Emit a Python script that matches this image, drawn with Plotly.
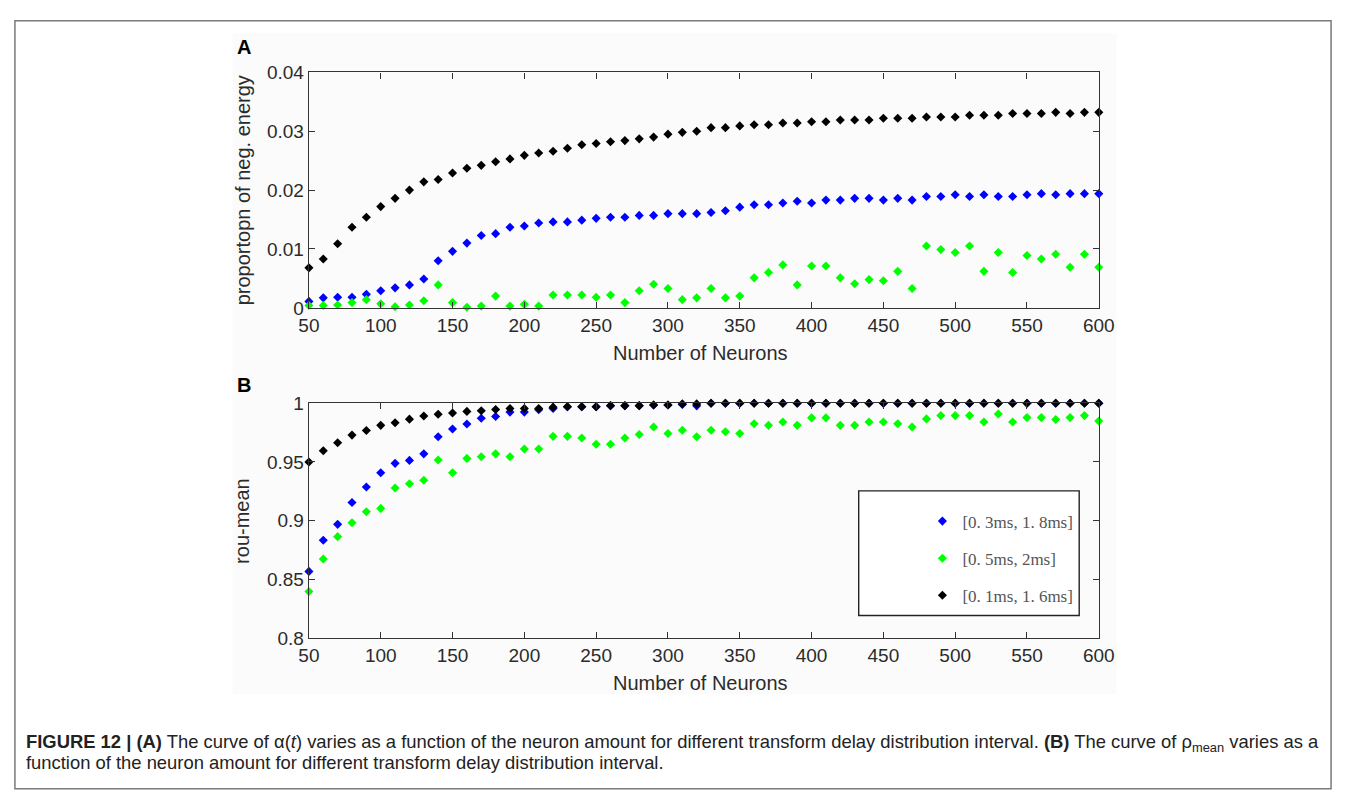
import plotly.graph_objects as go

W, H = 1350, 792

neurons = [50, 60, 70, 80, 90, 100, 110, 120, 130, 140, 150, 160, 170, 180, 190, 200,
           210, 220, 230, 240, 250, 260, 270, 280, 290, 300, 310, 320, 330, 340, 350, 360,
           370, 380, 390, 400, 410, 420, 430, 440, 450, 460, 470, 480, 490, 500, 510, 520,
           530, 540, 550, 560, 570, 580, 590, 600]

series_names = ["[0. 3ms, 1. 8ms]", "[0. 5ms, 2ms]", "[0. 1ms, 1. 6ms]"]
series_colors = ["#0000ff", "#00ff00", "#000000"]

# Panel A: proportion of negative energy
negA_blue = [0.0011, 0.0017, 0.0018, 0.0018, 0.0023, 0.0029, 0.0034, 0.0039, 0.0049, 0.0080,
             0.0096, 0.0110, 0.0123, 0.0126, 0.0137, 0.0139, 0.0144, 0.0146, 0.0146, 0.0149,
             0.0152, 0.0154, 0.0154, 0.0157, 0.0157, 0.0160, 0.0160, 0.0160, 0.0162, 0.0165,
             0.0171, 0.0175, 0.0175, 0.0178, 0.0181, 0.0178, 0.0183, 0.0183, 0.0186, 0.0186,
             0.0183, 0.0186, 0.0183, 0.0189, 0.0189, 0.0192, 0.0189, 0.0192, 0.0189, 0.0189,
             0.0192, 0.0194, 0.0192, 0.0194, 0.0194, 0.0194]
negA_green = [0.0004, 0.0004, 0.0005, 0.0009, 0.0014, 0.0007, 0.0002, 0.0005, 0.0012, 0.0039,
              0.0009, 0.0001, 0.0003, 0.0020, 0.0003, 0.0006, 0.0003, 0.0022, 0.0022, 0.0022,
              0.0018, 0.0022, 0.0009, 0.0029, 0.0040, 0.0033, 0.0014, 0.0017, 0.0033, 0.0017,
              0.0020, 0.0051, 0.0060, 0.0073, 0.0039, 0.0071, 0.0071, 0.0051, 0.0041, 0.0048,
              0.0046, 0.0062, 0.0033, 0.0105, 0.0099, 0.0094, 0.0105, 0.0062, 0.0094, 0.0060,
              0.0089, 0.0083, 0.0091, 0.0069, 0.0091, 0.0069]
negA_black = [0.0068, 0.0083, 0.0109, 0.0137, 0.0154, 0.0172, 0.0186, 0.0200, 0.0214, 0.0218,
              0.0229, 0.0237, 0.0242, 0.0248, 0.0253, 0.0259, 0.0263, 0.0266, 0.0271, 0.0277,
              0.0279, 0.0282, 0.0284, 0.0287, 0.0290, 0.0295, 0.0298, 0.0300, 0.0306, 0.0306,
              0.0309, 0.0311, 0.0311, 0.0314, 0.0314, 0.0316, 0.0316, 0.0319, 0.0319, 0.0319,
              0.0322, 0.0322, 0.0322, 0.0324, 0.0324, 0.0324, 0.0327, 0.0327, 0.0327, 0.0330,
              0.0330, 0.0330, 0.0332, 0.0330, 0.0332, 0.0332]

# Panel B: rou-mean
rouB_blue = [0.8567, 0.8833, 0.8968, 0.9154, 0.9286, 0.9408, 0.9488, 0.9513, 0.9569, 0.9715,
             0.9781, 0.9823, 0.9873, 0.9887, 0.9925, 0.9925, 0.9945, 0.9956, 0.9970, 0.9970,
             0.9970, 0.9980, 0.9980, 0.9980, 0.9985, 0.9985, 0.9990, 0.9978, 1.0, 1.0,
             1.0, 1.0, 1.0, 1.0, 1.0, 1.0, 1.0, 1.0, 1.0, 1.0,
             1.0, 1.0, 1.0, 1.0, 1.0, 1.0, 1.0, 1.0, 1.0, 1.0,
             1.0, 1.0, 1.0, 1.0, 1.0, 1.0]
rouB_green = [0.8396, 0.8672, 0.8863, 0.8982, 0.9076, 0.9104, 0.9278, 0.9314, 0.9344, 0.9516,
              0.9408, 0.9530, 0.9544, 0.9569, 0.9544, 0.9610, 0.9610, 0.9718, 0.9718, 0.9704,
              0.9651, 0.9651, 0.9704, 0.9734, 0.9798, 0.9743, 0.9770, 0.9715, 0.9770, 0.9757,
              0.9743, 0.9826, 0.9812, 0.9840, 0.9812, 0.9876, 0.9876, 0.9812, 0.9812, 0.9840,
              0.9840, 0.9826, 0.9798, 0.9867, 0.9895, 0.9895, 0.9895, 0.9840, 0.9909, 0.9840,
              0.9878, 0.9878, 0.9862, 0.9878, 0.9895, 0.9848]
rouB_black = [0.9500, 0.9596, 0.9663, 0.9729, 0.9768, 0.9812, 0.9834, 0.9865, 0.9892, 0.9906,
              0.9917, 0.9931, 0.9936, 0.9947, 0.9956, 0.9956, 0.9956, 0.9967, 0.9970, 0.9970,
              0.9970, 0.9980, 0.9980, 0.9980, 0.9985, 0.9985, 0.9995, 0.9995, 1.0, 1.0,
              1.0, 1.0, 1.0, 1.0, 1.0, 1.0, 1.0, 1.0, 1.0, 1.0,
              1.0, 1.0, 1.0, 1.0, 1.0, 1.0, 1.0, 1.0, 1.0, 1.0,
              1.0, 1.0, 1.0, 1.0, 1.0, 1.0]

x_ticks = [50, 100, 150, 200, 250, 300, 350, 400, 450, 500, 550, 600]
yA_ticks = [0, 0.01, 0.02, 0.03, 0.04]
yA_labels = ["0", "0.01", "0.02", "0.03", "0.04"]
yB_ticks = [0.8, 0.85, 0.9, 0.95, 1.0]
yB_labels = ["0.8", "0.85", "0.9", "0.95", "1"]


def px(x):
    return x / W


def py(y):
    return 1 - y / H


# layout geometry (pixels)
PL, PR = 304, 1110
A_TOP, A_BOT = 64, 306
B_TOP, B_BOT = 404, 645

fig = go.Figure()

A_vals = [negA_blue, negA_green, negA_black]
B_vals = [rouB_blue, rouB_green, rouB_black]
for i in range(3):
    fig.add_trace(go.Scatter(
        x=neurons, y=A_vals[i], mode="markers", xaxis="x", yaxis="y",
        marker=dict(symbol="diamond", size=7, color=series_colors[i]),
        showlegend=False, cliponaxis=False, name=series_names[i]))
for i in range(3):
    fig.add_trace(go.Scatter(
        x=neurons, y=B_vals[i], mode="markers", xaxis="x2", yaxis="y2",
        marker=dict(symbol="diamond", size=7, color=series_colors[i]),
        showlegend=True, legendgroup="g%d" % i, cliponaxis=False, name=series_names[i]))

tick_font = dict(family="Liberation Sans, Arial, sans-serif", size=19, color="#2b2b2b")
axis_common = dict(showline=True, linecolor="#333333", linewidth=1.4, mirror="ticks",
                   ticks="inside", ticklen=6, tickcolor="#333333", tickwidth=1.4,
                   showgrid=False, zeroline=False, tickfont=tick_font)

fig.update_layout(
    width=W, height=H,
    margin=dict(l=0, r=0, t=0, b=0),
    paper_bgcolor="white", plot_bgcolor="white",
    xaxis=dict(domain=[px(PL), px(PR)], anchor="y", range=[50, 600],
               tickvals=x_ticks, **axis_common),
    yaxis=dict(domain=[py(A_BOT), py(A_TOP)], anchor="x", range=[0, 0.04],
               tickvals=yA_ticks, ticktext=yA_labels, **axis_common),
    xaxis2=dict(domain=[px(PL), px(PR)], anchor="y2", range=[50, 600],
                tickvals=x_ticks, **axis_common),
    yaxis2=dict(domain=[py(B_BOT), py(B_TOP)], anchor="x2", range=[0.8, 1.0],
                tickvals=yB_ticks, ticktext=yB_labels, **axis_common),
    legend=dict(x=px(930), y=py(507), xanchor="left", yanchor="top",
                bgcolor="rgba(0,0,0,0)", borderwidth=0,
                tracegroupgap=12, traceorder="grouped",
                font=dict(family="Liberation Serif, DejaVu Serif, serif", size=17, color="#555555")),
)

shapes = [
    # outer figure frame
    dict(type="rect", xref="paper", yref="paper", x0=px(4), x1=px(1347), y0=py(800), y1=py(11),
         line=dict(color="#7a7a7a", width=1.5), fillcolor="rgba(0,0,0,0)", layer="below"),
    # light background of embedded chart image
    dict(type="rect", xref="paper", yref="paper", x0=px(226), x1=px(1128), y0=py(703), y1=py(24),
         line=dict(width=0), fillcolor="#fbfbfb", layer="below"),
    # legend box
    dict(type="rect", xref="paper", yref="paper", x0=px(865), x1=px(1090), y0=py(622), y1=py(494),
         line=dict(color="#222222", width=1.4), fillcolor="white", layer="below"),
]
fig.update_layout(shapes=shapes)

title_font = dict(family="Liberation Sans, Arial, sans-serif", size=20, color="#2b2b2b")
label_font = dict(family="Liberation Sans, Arial, sans-serif", size=20, color="#000")
cap_font = dict(family="Liberation Sans, Arial, sans-serif", size=18.4, color="#222222")


def ann(text, x, y, font, xanchor="center", yanchor="middle", **kw):
    return dict(text=text, x=px(x), y=py(y), xref="paper", yref="paper", showarrow=False,
                xanchor=xanchor, yanchor=yanchor, font=font, **kw)


annotations = [
    ann("<b>A</b>", 238, 38, label_font),
    ann("<b>B</b>", 238, 385, label_font),
    ann("proportopn of neg. energy", 237, (A_TOP + A_BOT) / 2, title_font, textangle=-90),
    ann("rou-mean", 235, (B_TOP + B_BOT) / 2, title_font, textangle=-90),
    ann("Number of Neurons", 704, 352, title_font),
    ann("Number of Neurons", 704, 691, title_font),
    ann("<b>FIGURE 12 | (A)</b> The curve of α(<i>t</i>) varies as a function of the neuron amount "
        "for different transform delay distribution interval. <b>(B)</b> The curve of "
        "ρ<sub>mean</sub> varies as a", 13, 753, cap_font, xanchor="left"),
    ann("function of the neuron amount for different transform delay distribution interval.",
        13, 773, cap_font, xanchor="left"),
]
fig.update_layout(annotations=annotations)

fig.write_html("out.html")
